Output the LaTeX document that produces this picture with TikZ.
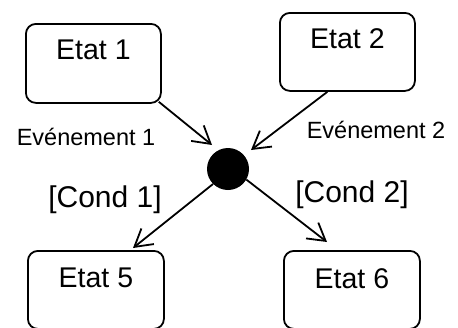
\documentclass[tikz,border=0pt]{standalone}
\usepackage{fontspec}
\setmainfont{Liberation Sans}
\usetikzlibrary{arrows.meta}
\begin{document}
\begin{tikzpicture}[x=1pt,y=-1pt,
  state/.style={draw, line width=1.8pt, rounded corners=10pt, inner sep=0pt,
    font=\fontsize{28.5}{30}\selectfont, anchor=north west},
  lbl/.style={inner sep=0pt, font=\fontsize{23.5}{25}\selectfont},
  cnd/.style={inner sep=0pt, font=\fontsize{30}{32}\selectfont},
  arr/.style={line width=1.8pt, -{Straight Barb[length=17pt,width=20pt,line width=1.8pt]}}]
\useasboundingbox (0,0) rectangle (458,327);
\node[state, minimum width=135pt, minimum height=79pt, text height=36pt, text depth=43pt] (e1) at (25,23) {Etat 1};
\node[state, minimum width=135pt, minimum height=78pt, text height=36pt, text depth=42pt] (e2) at (279,12) {Etat 2};
\node[state, minimum width=136pt, minimum height=78pt, text height=37pt, text depth=41pt] (e5) at (27,250) {Etat 5};
\node[state, minimum width=136pt, minimum height=78pt, text height=38pt, text depth=40pt] (e6) at (283,250) {Etat 6};
\node[circle, fill=black, minimum size=42pt, inner sep=0pt] (dot) at (228,169) {};
\coordinate (t1) at (212,145);
\coordinate (t2) at (251,150);
\coordinate (t3) at (133,248);
\coordinate (t4) at (327,242);
\draw[arr] ([shift={(-3,-2)}]e1.south east) -- (t1);
\draw[arr] ([xshift=-20pt]e2.south) -- (t2);
\draw[arr] (dot.225) -- (t3);
\draw[arr] (dot.-30) -- (t4);
\node[lbl] (l1) at (86,137) {Evénement 1};
\node[lbl] (l2) at (376,130) {Evénement 2};
\node[cnd] (c1) at (105,200) {[Cond 1]};
\node[cnd] (c2) at (352,195) {[Cond 2]};
\end{tikzpicture}
\end{document}
